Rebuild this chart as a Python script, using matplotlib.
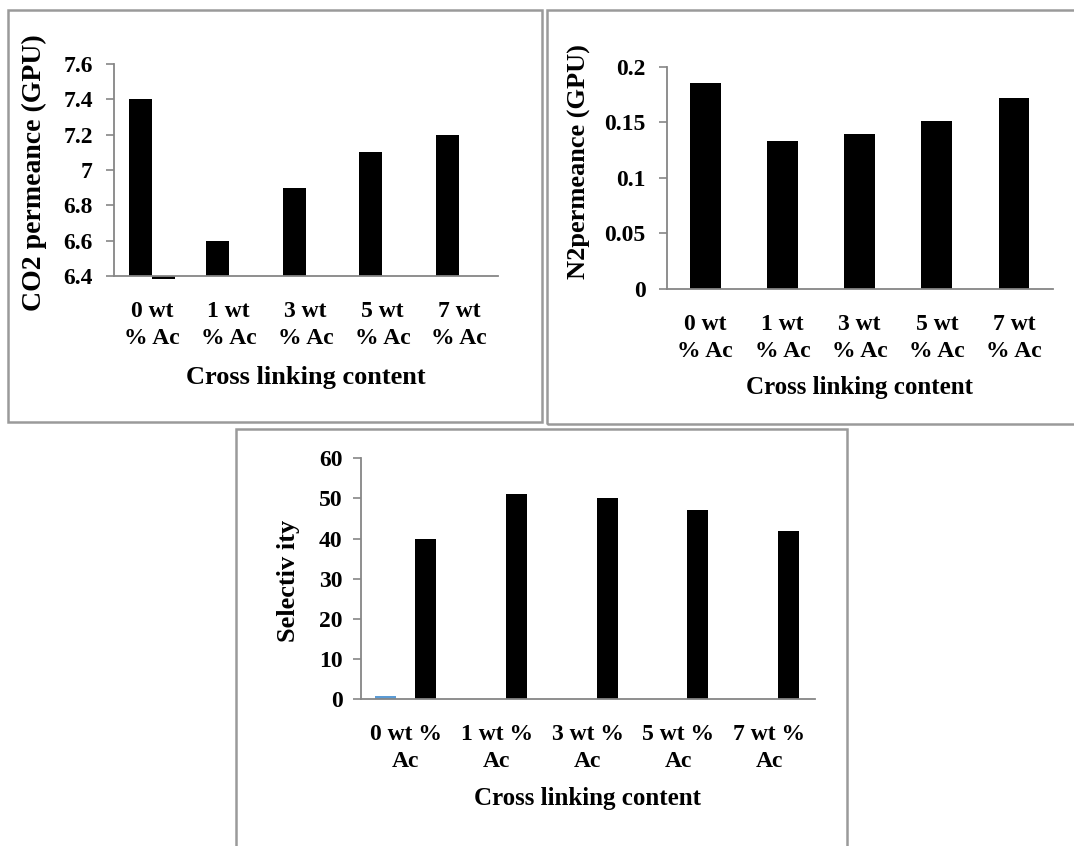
import matplotlib
matplotlib.use("Agg")
import matplotlib.pyplot as plt
import numpy as np
from matplotlib.patches import Rectangle

# --- data ---
labels_two_line = ["0 wt\n% Ac", "1 wt\n% Ac", "3 wt\n% Ac", "5 wt\n% Ac", "7 wt\n% Ac"]
labels_sel = ["0 wt %\nAc", "1 wt %\nAc", "3 wt %\nAc", "5 wt %\nAc", "7 wt %\nAc"]

co2_perm = [7.4, 6.6, 6.9, 7.1, 7.2]
co2_extra = [6.385, np.nan, np.nan, np.nan, np.nan]   # stray second series, just under the axis
n2_perm = [0.185, 0.133, 0.139, 0.151, 0.172]
sel_extra = [0.7, np.nan, np.nan, np.nan, np.nan]     # stray blue series
selectivity = [40.0, 51.0, 50.0, 47.2, 41.8]

co2_ticks = [6.4, 6.6, 6.8, 7.0, 7.2, 7.4, 7.6]
co2_ticklabels = ["6.4", "6.6", "6.8", "7", "7.2", "7.4", "7.6"]
n2_ticks = [0, 0.05, 0.1, 0.15, 0.2]
n2_ticklabels = ["0", "0.05", "0.1", "0.15", "0.2"]
sel_ticks = [0, 10, 20, 30, 40, 50, 60]

W, H = 1074, 846
FONT = "Liberation Serif"
AXIS_GREY = "#868686"
BORDER_GREY = "#9a9a9a"

fig = plt.figure(figsize=(W / 100, H / 100), dpi=100)
fig.patch.set_facecolor("white")


def px_axes(left, top, right, bottom):
    """Create axes from a pixel box (origin at top-left of the image)."""
    ax = fig.add_axes([left / W, 1 - bottom / H, (right - left) / W, (bottom - top) / H])
    ax.set_facecolor("none")
    for side in ("top", "right"):
        ax.spines[side].set_visible(False)
    for side in ("left", "bottom"):
        ax.spines[side].set_color(AXIS_GREY)
        ax.spines[side].set_linewidth(1.3)
    ax.tick_params(axis="y", direction="out", length=6, width=1.2, color=AXIS_GREY)
    ax.tick_params(axis="x", length=0)
    ax._box = (left, top, right, bottom)
    return ax


def place_labels(ax, xlabel_y, ylabel_x, ylabel_y):
    left, top, right, bottom = ax._box
    ax.xaxis.set_label_coords(0.5, (bottom - xlabel_y) / (bottom - top))
    ax.yaxis.set_label_coords((ylabel_x - left) / (right - left), (bottom - ylabel_y) / (bottom - top))


def border(left, top, right, bottom):
    fig.patches.append(Rectangle((left / W, 1 - bottom / H), (right - left) / W, (bottom - top) / H,
                                 transform=fig.transFigure, fill=False,
                                 edgecolor=BORDER_GREY, linewidth=1.8))


# panel frames
border(8, 10, 542, 422)
border(547, 10, 1080, 424)
border(236, 429, 847, 852)

x = np.arange(len(labels_two_line))
bold = dict(fontweight="bold", family=FONT)

# --- panel 1: CO2 permeance ---
ax1 = px_axes(113.6, 64, 497.6, 276)
ax1.bar(x - 0.15, co2_perm, width=0.3, color="black")
ax1.bar(x + 0.15, np.array(co2_extra) - 6.4, bottom=6.4, width=0.3, color="black", clip_on=False)
ax1.set_xlim(-0.5, 4.5)
ax1.set_ylim(6.4, 7.6)
ax1.set_yticks(co2_ticks)
ax1.set_yticklabels(co2_ticklabels, fontsize=17, **bold)
ax1.tick_params(axis="y", pad=9)
ax1.set_xticks(x)
ax1.set_xticklabels(labels_two_line, fontsize=17, linespacing=1.38, **bold)
ax1.tick_params(axis="x", pad=18)
ax1.set_xlabel("Cross linking content", fontsize=19, va="center", **bold)
ax1.set_ylabel("CO2 permeance (GPU)", fontsize=20, va="center", **bold)
place_labels(ax1, 377, 34, 173)

# --- panel 2: N2 permeance ---
ax2 = px_axes(666.7, 66.7, 1052.6, 288.7)
ax2.bar(x, n2_perm, width=0.4, color="black")
ax2.set_xlim(-0.5, 4.5)
ax2.set_ylim(0, 0.2)
ax2.set_yticks(n2_ticks)
ax2.set_yticklabels(n2_ticklabels, fontsize=17, **bold)
ax2.tick_params(axis="y", pad=9)
ax2.set_xticks(x)
ax2.set_xticklabels(labels_two_line, fontsize=17, linespacing=1.38, **bold)
ax2.tick_params(axis="x", pad=18)
ax2.set_xlabel("Cross linking content", fontsize=18, va="center", **bold)
ax2.set_ylabel("N2permeance (GPU)", fontsize=19, va="center", **bold)
place_labels(ax2, 387, 579, 162)

# --- panel 3: selectivity ---
ax3 = px_axes(360.5, 458.3, 814.6, 699)
ax3.bar(x - 0.225, sel_extra, width=0.23, color="#5B9BD5")
ax3.bar(x + 0.215, selectivity, width=0.23, color="black")
ax3.set_xlim(-0.5, 4.5)
ax3.set_ylim(0, 60)
ax3.set_yticks(sel_ticks)
ax3.set_yticklabels([str(t) for t in sel_ticks], fontsize=17, **bold)
ax3.tick_params(axis="y", pad=7)
ax3.set_xticks(x)
ax3.set_xticklabels(labels_sel, fontsize=17, linespacing=1.38, **bold)
ax3.tick_params(axis="x", pad=18)
ax3.set_xlabel("Cross linking content", fontsize=18, va="center", **bold)
ax3.set_ylabel("Selectiv ity", fontsize=19, va="center", **bold)
place_labels(ax3, 798, 288, 581)

fig.savefig("out.png", dpi=100)
